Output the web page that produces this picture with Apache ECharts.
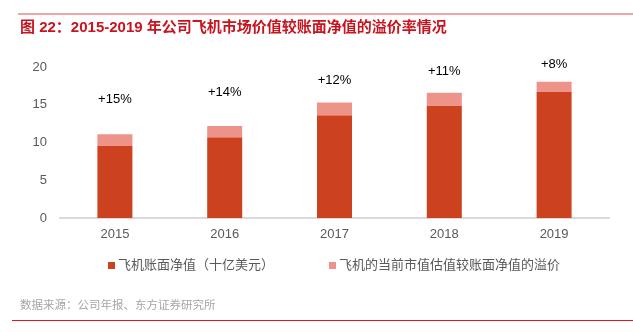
<!DOCTYPE html>
<html><head><meta charset="utf-8">
<script src="https://cdn.jsdelivr.net/npm/echarts@6/dist/echarts.min.js"></script>
<style>html,body{margin:0;padding:0;background:#fff}#c{width:633px;height:332px}</style>
</head><body><div id="c"></div>
<script>
var categories = ['2015','2016','2017','2018','2019'];
var bookValue = [9.6, 10.7, 13.6, 14.9, 16.7];
var premium = [1.5, 1.5, 1.7, 1.7, 1.35];
var premiumLabels = ['+15%','+14%','+12%','+11%','+8%'];
var yTicks = [0, 5, 10, 15, 20];
var seriesNames = ['飞机账面净值（十亿美元）', '飞机的当前市值估值较账面净值的溢价'];
var titleText = '图 22：2015-2019 年公司飞机市场价值较账面净值的溢价率情况';
var sourceText = '数据来源：公司年报、东方证券研究所';

var labelDist = [28, 27, 16, 15, 11];
var chart = echarts.init(document.getElementById('c'));
var font = '"Liberation Sans","Noto Sans CJK SC",sans-serif';
chart.setOption({
  animation: false,
  textStyle: {fontFamily: font},
  title: {text: titleText, left: 20, top: 20, padding: 0,
    textStyle: {color: '#C8141E', fontSize: 15, fontWeight: 'bold', fontFamily: font}},
  graphic: [
    {type: 'line', shape: {x1: 18, y1: 14, x2: 633, y2: 14}, style: {stroke: '#E98A8A', lineWidth: 1.5}},
    {type: 'line', shape: {x1: 12, y1: 320.5, x2: 633, y2: 320.5}, style: {stroke: '#E3141E', lineWidth: 1.2}},
    {type: 'text', left: 20, top: 300, style: {text: sourceText, fill: '#A6A6A6', fontSize: 11.5, fontFamily: font}}
  ],
  legend: {top: 254, left: 103, itemGap: 55, itemWidth: 7, itemHeight: 7, icon: 'rect',
    textStyle: {color: '#595959', fontSize: 13, padding: [0,0,0,-2]},
    data: seriesNames},
  grid: {left: 60, right: 24, top: 67, bottom: 114, containLabel: false},
  xAxis: {type: 'category', data: categories,
    axisLine: {lineStyle: {color: '#D9D9D9', width: 2}}, axisTick: {show: false},
    axisLabel: {color: '#595959', fontSize: 13, margin: 10}},
  yAxis: {type: 'value', min: yTicks[0], max: yTicks[yTicks.length-1], interval: 5,
    axisLine: {show: false}, axisTick: {show: false}, splitLine: {show: false},
    axisLabel: {color: '#595959', fontSize: 13, margin: 13}},
  series: [
    {name: seriesNames[0], type: 'bar', stack: 'a', barWidth: 35, data: bookValue,
      itemStyle: {color: '#CD421E'}},
    {name: seriesNames[1], type: 'bar', stack: 'a', barWidth: 35,
      data: premium.map(function(v, i){ return {value: v, label: {distance: labelDist[i]}}; }),
      itemStyle: {color: '#EE938A'},
      label: {show: true, position: 'top', color: '#000', fontSize: 13,
        formatter: function(p){ return premiumLabels[p.dataIndex]; }}}
  ]
});
</script></body></html>
